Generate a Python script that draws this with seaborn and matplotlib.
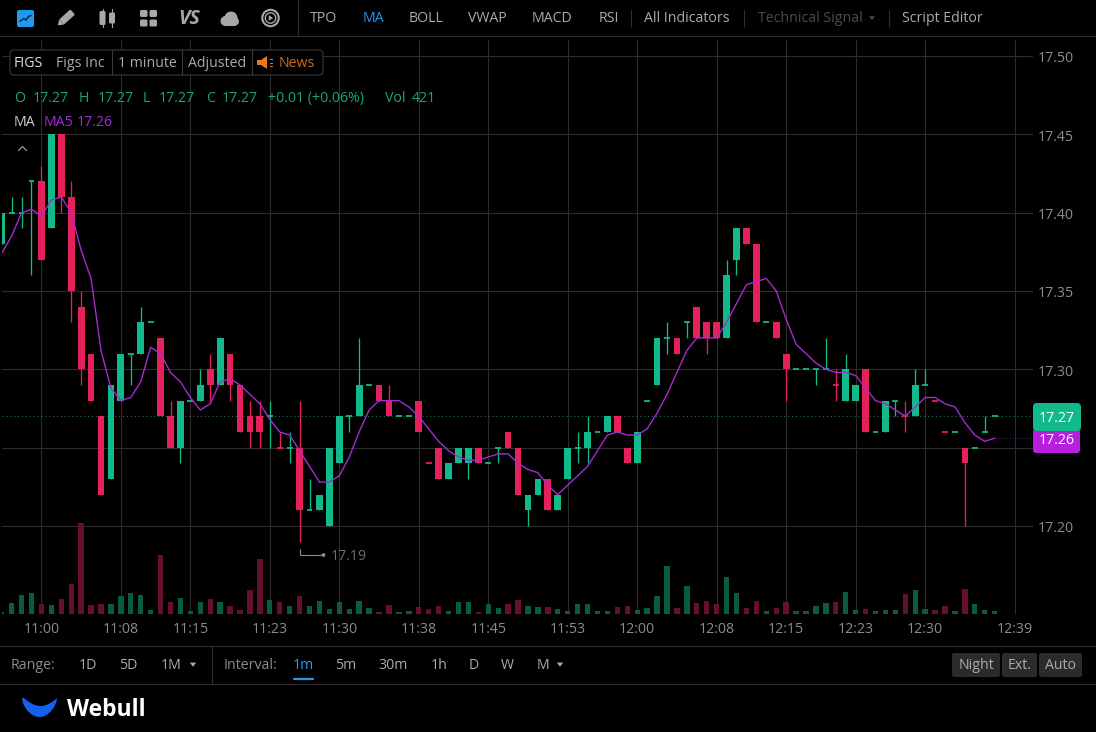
import numpy as np
import pandas as pd
import matplotlib
matplotlib.use("Agg")
import matplotlib.pyplot as plt
from matplotlib.patches import FancyBboxPatch, Polygon, Circle, Rectangle
from matplotlib.transforms import Affine2D, ScaledTranslation
import seaborn as sns

# One-minute candles for FIGS
opens = [17.38,17.40,17.40,17.42,17.42,17.39,17.45,17.41,17.34,17.31,17.27,17.23,17.28,17.31,17.31,17.33,17.32,17.27,17.25,17.28,
         17.28,17.30,17.29,17.31,17.29,17.27,17.27,17.27,17.25,17.25,17.25,17.21,17.21,17.20,17.24,17.27,17.27,17.29,17.29,17.28,
         17.27,17.27,17.28,17.24,17.25,17.23,17.24,17.24,17.25,17.24,17.25,17.26,17.25,17.21,17.22,17.23,17.21,17.23,17.25,17.25,
         17.26,17.26,17.27,17.25,17.24,17.28,17.29,17.32,17.32,17.33,17.34,17.33,17.33,17.32,17.37,17.39,17.38,17.33,17.33,17.31,
         17.30,17.30,17.30,17.30,17.29,17.28,17.28,17.30,17.26,17.26,17.28,17.27,17.27,17.29,17.28,17.26,17.26,17.25,17.25,17.26,17.27]
closes = [17.40,17.40,17.40,17.42,17.37,17.45,17.41,17.35,17.30,17.28,17.22,17.29,17.31,17.31,17.33,17.33,17.27,17.25,17.28,17.28,
          17.29,17.29,17.32,17.29,17.26,17.26,17.26,17.27,17.25,17.25,17.21,17.21,17.22,17.25,17.27,17.27,17.29,17.29,17.28,17.27,
          17.27,17.27,17.26,17.24,17.23,17.24,17.25,17.25,17.24,17.24,17.25,17.25,17.22,17.22,17.23,17.21,17.22,17.25,17.25,17.26,
          17.26,17.27,17.26,17.24,17.26,17.28,17.32,17.32,17.31,17.33,17.32,17.32,17.32,17.36,17.39,17.38,17.33,17.33,17.32,17.30,
          17.30,17.30,17.30,17.30,17.29,17.30,17.29,17.26,17.26,17.28,17.28,17.27,17.29,17.29,17.28,17.26,17.26,17.24,17.25,17.26,17.27]
highs = [17.40,17.41,17.41,17.42,17.43,17.45,17.45,17.42,17.35,17.31,17.27,17.29,17.31,17.31,17.34,17.33,17.32,17.28,17.28,17.28,
         17.30,17.31,17.32,17.31,17.29,17.28,17.28,17.28,17.26,17.26,17.28,17.23,17.22,17.25,17.27,17.27,17.32,17.29,17.29,17.29,
         17.27,17.27,17.28,17.24,17.25,17.24,17.25,17.25,17.25,17.24,17.25,17.26,17.25,17.22,17.23,17.23,17.22,17.25,17.26,17.27,
         17.26,17.27,17.27,17.25,17.26,17.28,17.32,17.33,17.32,17.33,17.34,17.33,17.33,17.37,17.39,17.39,17.38,17.33,17.33,17.31,
         17.30,17.30,17.30,17.32,17.30,17.31,17.29,17.30,17.26,17.28,17.28,17.28,17.30,17.30,17.28,17.26,17.26,17.25,17.25,17.27,17.27]
lows = [17.38,17.40,17.39,17.36,17.37,17.39,17.40,17.33,17.29,17.28,17.22,17.23,17.28,17.29,17.31,17.33,17.27,17.25,17.24,17.28,
        17.28,17.28,17.29,17.28,17.26,17.25,17.25,17.25,17.25,17.24,17.19,17.21,17.21,17.20,17.24,17.26,17.27,17.29,17.28,17.27,
        17.27,17.27,17.26,17.24,17.23,17.23,17.24,17.23,17.24,17.24,17.24,17.25,17.22,17.20,17.22,17.21,17.21,17.23,17.24,17.24,
        17.26,17.26,17.26,17.24,17.24,17.28,17.29,17.31,17.31,17.32,17.32,17.31,17.32,17.32,17.36,17.38,17.33,17.33,17.32,17.28,
        17.30,17.30,17.29,17.30,17.28,17.28,17.28,17.26,17.26,17.26,17.27,17.26,17.27,17.29,17.28,17.26,17.26,17.20,17.25,17.26,17.27]
falling_dojis = [28, 43, 84, 91, 94, 95]
volumes = [330,1500,2680,3010,1460,1320,2160,4280,12880,1220,1460,1360,2540,2960,2730,520,8320,1690,2210,420,
           1650,2070,1650,1130,560,3380,7710,1970,1740,1180,2540,1080,1790,710,1740,710,1790,850,330,1320,
           280,380,940,710,1130,380,1650,1690,330,1360,850,1360,1930,1130,990,990,750,470,1360,1460,
           380,420,940,1130,560,800,2540,6770,890,3950,1600,1790,1410,5260,2910,800,1880,420,890,1650,
           420,420,1080,1600,1690,3100,610,750,420,520,560,2820,3380,710,560,1130,380,3530,1460,560,421]
ma5 = [17.374,17.385,17.400,17.402,17.398,17.408,17.410,17.400,17.376,17.358,17.312,17.288,17.280,17.282,17.292,17.314,17.310,
       17.298,17.292,17.282,17.274,17.278,17.292,17.294,17.290,17.284,17.278,17.268,17.260,17.258,17.248,17.238,17.228,17.228,
       17.232,17.244,17.260,17.274,17.280,17.280,17.280,17.276,17.270,17.262,17.254,17.248,17.244,17.242,17.242,17.244,17.246,
       17.246,17.240,17.236,17.234,17.226,17.220,17.226,17.232,17.238,17.248,17.258,17.260,17.258,17.258,17.262,17.272,17.284,
       17.298,17.312,17.320,17.320,17.320,17.330,17.342,17.354,17.356,17.358,17.350,17.332,17.316,17.310,17.304,17.300,17.298,
       17.298,17.296,17.288,17.280,17.278,17.274,17.270,17.276,17.282,17.282,17.278,17.276,17.266,17.258,17.254,17.256]

price_ticks = [17.20, 17.25, 17.30, 17.35, 17.40, 17.45, 17.50]
# The 17.25 row keeps its gridline; the last-average badge occupies its label slot
price_labels = ["17.20", "", "17.30", "17.35", "17.40", "17.45", "17.50"]
time_positions = [4, 12, 19, 27, 34, 42, 49, 57, 64, 72, 79, 86, 93, 102]
time_labels = ["11:00", "11:08", "11:15", "11:23", "11:30", "11:38", "11:45",
               "11:53", "12:00", "12:08", "12:15", "12:23", "12:30", "12:39"]

UP, DOWN = "#12B98A", "#E6205A"
UP_VOL, DOWN_VOL = "#0B5A44", "#66102C"
PURPLE = "#A52BD0"
GRID = "#2C2C2C"
MUTED = "#8C8C8C"
LIGHT = "#ABABAB"
BLUE = "#1E9BF0"
TEXT_SIZE = 10.2

sns.set_theme(style="dark", rc={
    "figure.facecolor": "black", "axes.facecolor": "black", "savefig.facecolor": "black",
    "axes.grid": True, "grid.color": GRID, "grid.linewidth": 0.8,
    "xtick.color": MUTED, "ytick.color": MUTED,
})
plt.rcParams["font.family"] = ["Open Sans", "DejaVu Sans"]

W, H = 1096, 732
fig = plt.figure(figsize=(W / 100, H / 100), dpi=100)

# Price pane
left, right, top, bottom = 2, 1033, 40, 614
ax = fig.add_axes([left / W, 1 - bottom / H, (right - left) / W, (bottom - top) / H])
ax.set_axisbelow(True)

df = pd.DataFrame({"idx": np.arange(len(opens)), "open": opens, "close": closes,
                   "high": highs, "low": lows, "volume": volumes, "ma5": ma5})
df["rising"] = df["close"] > df["open"]
df["doji"] = df["close"] == df["open"]
df.loc[df["doji"], "rising"] = True
df.loc[df["idx"].isin(falling_dojis), "rising"] = False
df["colour"] = np.where(df["rising"], UP, DOWN)
df["body_low"] = df[["open", "close"]].min(axis=1)
df["body_size"] = (df["close"] - df["open"]).abs()

ax.vlines(df["idx"], df["low"], df["high"], colors=df["colour"], linewidth=0.95, zorder=3)
dojis = df[df["doji"]]
ax.hlines(dojis["close"], dojis["idx"] - 0.29, dojis["idx"] + 0.29, colors=dojis["colour"], linewidth=1.3, zorder=3)
for rising, colour in [(True, UP), (False, DOWN)]:
    part = df[(df["rising"] == rising) & ~df["doji"]]
    sns.barplot(data=part, x="idx", y="body_size", bottom=part["body_low"].to_numpy(), native_scale=True,
                color=colour, saturation=1, width=0.68, errorbar=None, linewidth=0, ax=ax, zorder=3)
sns.lineplot(data=df, x="idx", y="ma5", color=PURPLE, linewidth=1.0, ax=ax, zorder=4)

# Last close and last average guides
ax.axhline(closes[-1], color="#1E6E58", linewidth=0.8, linestyle=(0, (1, 2.5)), zorder=2)
ax.plot([df["idx"].iloc[-1], 103.86], [ma5[-1]] * 2, color="#5A1E70", linewidth=0.7, linestyle=(0, (1, 2)), zorder=2)

ax.set_xlim(0.03, 103.86)
ax.set_ylim(17.1438, 17.5102)
ax.set_xticks(time_positions, time_labels, fontsize=TEXT_SIZE, color=MUTED)
ax.set_yticks(price_ticks, price_labels, fontsize=TEXT_SIZE, color=MUTED)
ax.set_xlabel("")
ax.set_ylabel("")
ax.grid(True, color=GRID, linewidth=0.8)
for spine in ax.spines.values():
    spine.set_visible(False)

# Volume pane shares the time scale, anchored to the bottom edge
vol_ax = ax.twinx()
vol_ax.patch.set_visible(False)
for rising, colour in [(True, UP_VOL), (False, DOWN_VOL)]:
    part = df[df["rising"] == rising]
    sns.barplot(data=part, x="idx", y="volume", native_scale=True, color=colour, saturation=1,
                width=0.54, errorbar=None, linewidth=0, ax=vol_ax)
vol_ax.set_xlim(ax.get_xlim())
vol_ax.set_ylim(0, 141 * (bottom - top))
vol_ax.axis("off")

# The price scale sits on the right; twinx resets it, so this comes afterwards
ax.yaxis.tick_right()
ax.tick_params(axis="both", length=0)
ax.tick_params(axis="x", pad=6)
ax.tick_params(axis="y", pad=3.5)
nudge_down = ScaledTranslation(0, -1 / 100, fig.dpi_scale_trans)
for tick in ax.yaxis.get_major_ticks():
    tick.label2.set_transform(tick.label2.get_transform() + nudge_down)

# Interface chrome drawn in pixel coordinates
ui = fig.add_axes([0, 0, 1, 1], zorder=10)
ui.set_xlim(0, W)
ui.set_ylim(H, 0)
ui.axis("off")
ui.patch.set_visible(False)
BORDER = "#2E2E2E"


def label(x, y, text, color=LIGHT, size=TEXT_SIZE, ha="left", **kw):
    ui.text(x, y, text, color=color, fontsize=size, ha=ha, va="center", **kw)


def box(x0, y0, x1, y1, face, edge="none", r=3, z=2, lw=0.8):
    ui.add_patch(FancyBboxPatch((x0 + r, y0 + r), x1 - x0 - 2 * r, y1 - y0 - 2 * r,
                                boxstyle=f"round,pad={r},rounding_size={r}", fc=face, ec=edge, lw=lw, zorder=z))


def hrule(y, x0=0, x1=W, color=BORDER):
    ui.plot([x0, x1], [y, y], color=color, lw=0.8)


def vrule(x, y0, y1, color=BORDER, lw=0.8):
    ui.plot([x, x], [y0, y1], color=color, lw=lw)


def triangle(x, y, color=LIGHT, s=3.2):
    ui.add_patch(Polygon([(x - s, y - s * 0.6), (x + s, y - s * 0.6), (x, y + s * 0.7)], fc=color, ec="none"))


# Top toolbar
hrule(36)
vrule(298, 0, 36)
ICON = "#A8A8A8"
box(17, 10, 34, 27, BLUE, r=2)
ui.plot([20, 23.5, 26, 28.5, 31], [21.5, 18.5, 20, 16.5, 15.5], color="#0A2A44", lw=1.1)
pencil = Affine2D().rotate_deg_around(66, 18, -42) + ui.transData
ui.add_patch(FancyBboxPatch((60, 14.5), 15, 7, boxstyle="round,pad=0,rounding_size=1.2", fc=ICON, ec="none", transform=pencil))
ui.add_patch(Polygon([(60, 14.5), (60, 21.5), (55, 18)], fc=ICON, ec="none", transform=pencil))
for cx, half in [(102.5, 7), (112, 5.5)]:
    box(cx - 3, 18 - half, cx + 3, 18 + half, ICON, r=1.5)
    vrule(cx, 9, 27, ICON)
for gx in (140, 149.5):
    for gy in (10, 19.5):
        box(gx, gy, gx + 7.5, gy + 7, ICON, r=1.5)
label(189.5, 18.5, "VS", color=ICON, size=14, ha="center", fontweight="bold", fontstyle="italic")
for cx, cy, r in [(225.5, 21, 5), (231, 18, 6.5), (235, 21.5, 4)]:
    ui.add_patch(Circle((cx, cy), r, fc=ICON, ec="none"))
ui.add_patch(Rectangle((225, 21.5), 11, 4, fc=ICON, ec="none"))
ui.add_patch(Circle((270.5, 18), 8.2, fc="none", ec=ICON, lw=1.5))
ui.add_patch(Circle((270.5, 18), 5.2, fc="none", ec=ICON, lw=1.0))
ui.add_patch(Polygon([(268.7, 15.2), (268.7, 20.8), (273.3, 18)], fc=ICON, ec="none"))

for x, text, colour in [(324, "TPO", LIGHT), (373, "MA", BLUE), (426, "BOLL", LIGHT), (487, "VWAP", LIGHT),
                        (552, "MACD", LIGHT), (609, "RSI", LIGHT), (687, "All Indicators", LIGHT),
                        (810, "Technical Signal", "#4C4C4C"), (942, "Script Editor", LIGHT)]:
    label(x, 18.5, text, color=colour, ha="center")
triangle(872, 18, color="#4C4C4C", s=2.8)
for x in (631, 744, 889):
    vrule(x, 10, 27)

# Symbol strip
box(10, 50, 323, 75, "black", edge="#3A3A3A", r=4, z=3)
for x in (112, 182, 252):
    ui.plot([x, x], [50, 75], color="#3A3A3A", lw=0.8, zorder=4)
ui.text(14, 63.5, "FIGS", color="#E0E0E0", fontsize=TEXT_SIZE, va="center", zorder=5)
for x, text in [(56, "Figs Inc"), (118, "1 minute"), (188, "Adjusted")]:
    ui.text(x, 63.5, text, color=LIGHT, fontsize=TEXT_SIZE, va="center", zorder=5)
ORANGE = "#CC6A20"
ui.add_patch(Polygon([(257, 60), (261, 60), (267, 56), (267, 69), (261, 65), (257, 65)], fc="#E8781F", ec="none", zorder=5))
for sy in (59, 62.5, 66):
    ui.plot([269.5, 271.5], [sy, sy], color="#E8781F", lw=0.8, zorder=5)
ui.text(279, 63.5, "News", color=ORANGE, fontsize=TEXT_SIZE, va="center", zorder=5)

# Quote and indicator rows
TEAL = "#19A585"
for x, text in [(14, "O"), (33, "17.27"), (79, "H"), (98, "17.27"), (143, "L"), (159, "17.27"), (206, "C"),
                (222, "17.27"), (268, "+0.01 (+0.06%)"), (385, "Vol"), (412, "421")]:
    label(x, 98.5, text, color=TEAL)
label(14, 122.5, "MA", color="#D0D0D0")
label(44, 122.5, "MA5", color=PURPLE)
label(77, 122.5, "17.26", color=PURPLE)
ui.plot([18.5, 22.5, 26.5], [150.5, 146.5, 150.5], color="#9A9A9A", lw=0.9)

# Session low marker
ui.plot([299.7, 299.7, 323], [548.5, 555, 555], color="#8A8A8A", lw=0.8)
ui.add_patch(Circle((323.5, 555), 1.8, fc="#9A9A9A", ec="none"))
label(331, 556, "17.19", color="#6E6E6E")

# Last price badges
box(1033, 429, 1080, 453, "#B81EE0", r=3, z=5)
ui.text(1056.5, 441, "17.26", color="white", fontsize=TEXT_SIZE, ha="center", va="center", zorder=6)
box(1033, 403, 1081, 431, UP, r=4, z=7)
ui.text(1056.5, 418, "17.27", color="white", fontsize=TEXT_SIZE, ha="center", va="center", zorder=8)

# Bottom controls
hrule(646)
hrule(683.5)
vrule(212, 646, 683)
label(11, 665.5, "Range:", color=MUTED)
for x, text in [(88, "1D"), (128.5, "5D"), (171.5, "1M"), (345.5, "5m"), (393.5, "30m"), (439, "1h"),
                (474, "D"), (507.5, "W"), (542.5, "M")]:
    label(x, 665.5, text, color=LIGHT, ha="center")
label(224, 665.5, "Interval:", color=MUTED)
label(303, 665.5, "1m", color=BLUE, ha="center")
ui.plot([294, 313], [678.5, 678.5], color=BLUE, lw=1.6)
triangle(193, 664.5)
triangle(560, 664.5)
for x0, x1, text in [(952, 1000, "Night"), (1002, 1037, "Ext."), (1039, 1082, "Auto")]:
    box(x0, 653, x1, 677, "#2B2B2B", r=2)
    ui.text((x0 + x1) / 2, 665.5, text, color=LIGHT, fontsize=TEXT_SIZE, ha="center", va="center", zorder=3)

# Brand mark and wordmark
t = np.linspace(0, 1, 60)
outer_x = 22 + 35 * t
outer_y = 698 + 19 * np.sin(np.pi * t) ** 0.55
inner_x = 57 - 33 * t
inner_y = 698 + 8 * np.sin(np.pi * t) ** 0.9
ui.add_patch(Polygon(np.column_stack([np.r_[outer_x, inner_x], np.r_[outer_y, inner_y]]), fc="#1560F0", ec="none"))
label(67, 710, "Webull", color="white", size=16.5, fontweight="bold")

fig.savefig("out.png", dpi=100, facecolor="black")
